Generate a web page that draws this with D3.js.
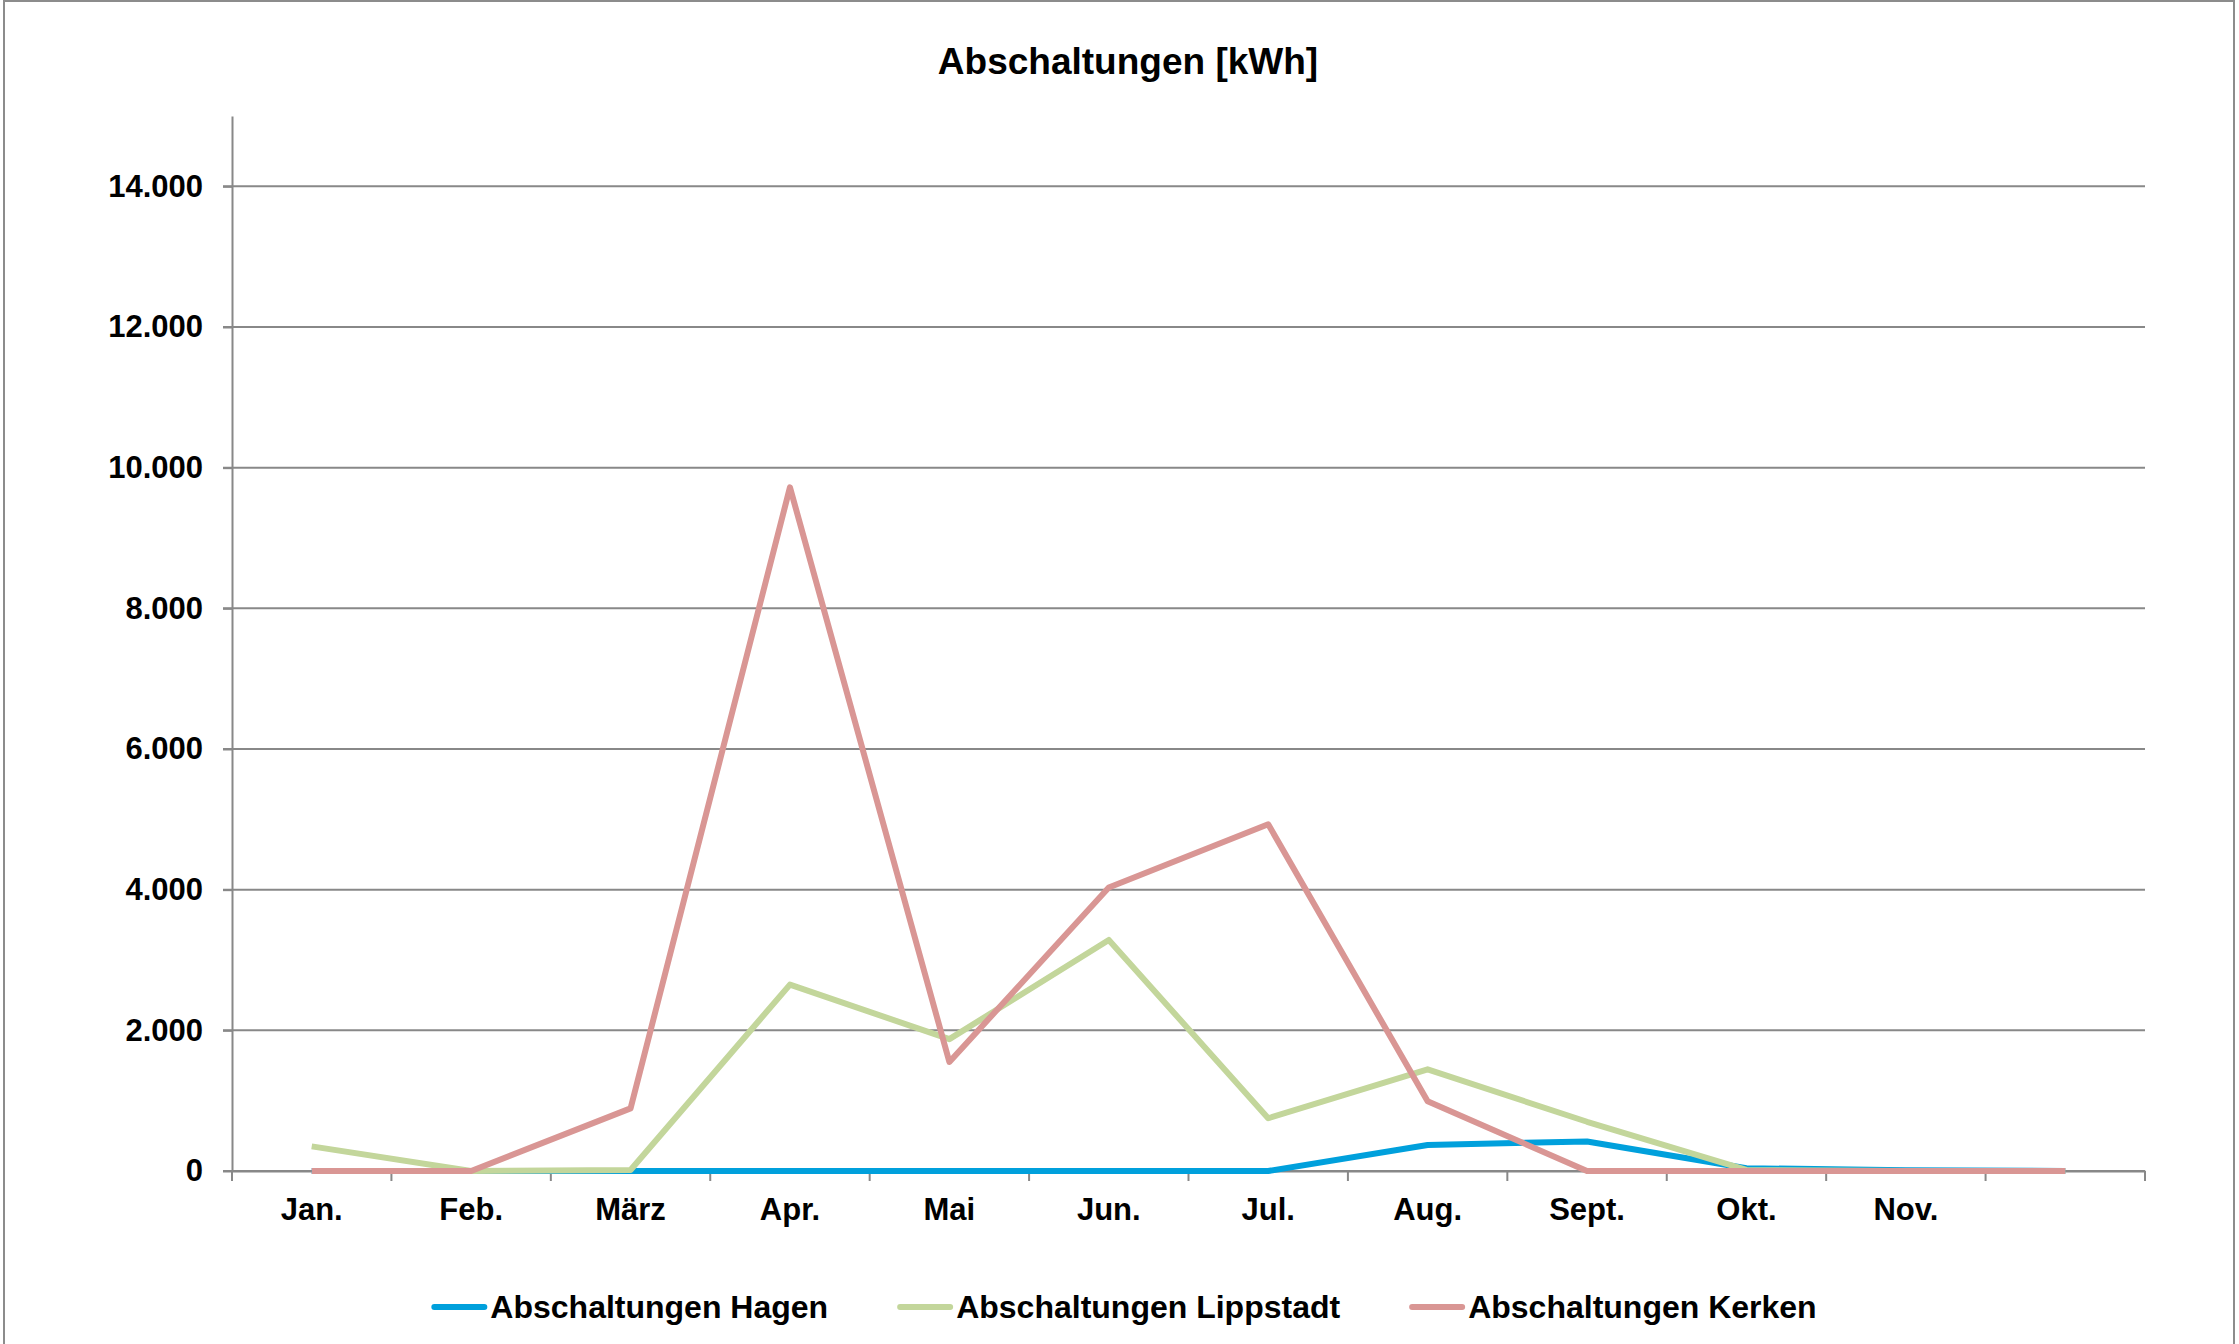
<!DOCTYPE html>
<html>
<head>
<meta charset="utf-8">
<script src="https://cdn.jsdelivr.net/npm/d3@7"></script>
<style>
  body { margin: 0; background: #fff; }
  text { font-family: "Liberation Sans", Arial, sans-serif; font-weight: bold; fill: #000; }
</style>
</head>
<body>
<svg id="chart"></svg>
<script>
// monthly values in kWh
const months = ["Jan.", "Feb.", "März", "Apr.", "Mai", "Jun.", "Jul.", "Aug.", "Sept.", "Okt.", "Nov.", ""];
const hagen = [0, 0, 0, 0, 0, 0, 0, 370, 420, 40, 10, 0];
const lippstadt = [350, 0, 15, 2650, 1875, 3285, 750, 1445, 700, 15, 0, 0];
const kerken = [0, 0, 890, 9720, 1550, 4030, 4930, 990, 0, 0, 0, 0];
const yTicks = [0, 2000, 4000, 6000, 8000, 10000, 12000, 14000];

const series = [
    { name: "Abschaltungen Hagen", values: hagen, color: "#00a0dc" },
    { name: "Abschaltungen Lippstadt", values: lippstadt, color: "#c3d69b" },
    { name: "Abschaltungen Kerken", values: kerken, color: "#d99694" }
];

const W = 2239, H = 1344;
const margin = { top: 116, right: 94, bottom: 173, left: 232 };
const width = W - margin.left - margin.right,
    height = H - margin.top - margin.bottom;

const de = d3.formatLocale({ decimal: ",", thousands: ".", grouping: [3], currency: ["", " €"] });
const fmt = de.format(",.0f");

const svg = d3.select("#chart").attr("width", W).attr("height", H);

// outer border
svg.append("rect")
    .attr("x", 4).attr("y", 1)
    .attr("width", 2230).attr("height", H + 10)
    .attr("fill", "none")
    .attr("stroke", "#8c8c8c")
    .attr("stroke-width", 2);

svg.append("text")
    .attr("x", 1128).attr("y", 74)
    .attr("text-anchor", "middle")
    .style("font-size", "37px")
    .text("Abschaltungen [kWh]");

const g = svg.append("g").attr("transform", `translate(${margin.left},${margin.top})`);

const x = d3.scaleBand().domain(months.map((m, i) => i)).range([0, width]).padding(0);
const y = d3.scaleLinear().domain([0, 15000]).range([height, 0]);

// gridlines
g.selectAll(".grid")
    .data(yTicks)
    .join("line")
    .attr("class", "grid")
    .attr("x1", -9).attr("x2", width)
    .attr("y1", d => y(d)).attr("y2", d => y(d))
    .attr("stroke", "#888")
    .attr("stroke-width", 2);

// y axis
const yAxis = g.append("g")
    .call(d3.axisLeft(y).tickValues(yTicks).tickFormat(fmt).tickSizeInner(9).tickSizeOuter(0).tickPadding(20));
yAxis.select(".domain").attr("stroke", "#888").attr("stroke-width", 2);
yAxis.selectAll(".tick line").attr("stroke", "#888").attr("stroke-width", 2);
yAxis.selectAll("text").style("font-size", "31px").attr("fill", "#000");

// x axis
const xAxis = g.append("g")
    .attr("transform", `translate(0,${height})`)
    .call(d3.axisBottom(x).tickFormat(i => months[i]).tickSize(0).tickPadding(27));
xAxis.select(".domain").attr("stroke", "#888").attr("stroke-width", 2);
xAxis.selectAll("text").style("font-size", "31px").attr("fill", "#000");

const bounds = months.map((m, i) => x(i)).concat([width]);
xAxis.selectAll(".btick")
    .data(bounds)
    .join("line")
    .attr("class", "btick")
    .attr("x1", d => d).attr("x2", d => d)
    .attr("y1", 0).attr("y2", 10)
    .attr("stroke", "#888")
    .attr("stroke-width", 2);

// series lines
const line = d3.line()
    .x((d, i) => x(i) + x.bandwidth() / 2)
    .y(d => y(d));

g.selectAll(".series")
    .data(series)
    .join("path")
    .attr("class", "series")
    .attr("d", d => line(d.values))
    .attr("fill", "none")
    .attr("stroke", d => d.color)
    .attr("stroke-width", 6)
    .attr("stroke-linejoin", "round");

// legend
const legend = svg.append("g").attr("transform", "translate(0,1307)");
let lx = 0;
series.forEach(s => {
    const it = legend.append("g").attr("transform", `translate(${lx},0)`);
    it.append("line")
        .attr("x1", 3).attr("x2", 53)
        .attr("stroke", s.color)
        .attr("stroke-width", 6)
        .attr("stroke-linecap", "round");
    const t = it.append("text")
        .attr("x", 59).attr("dy", "0.35em")
        .style("font-size", "32px")
        .text(s.name);
    lx += 59 + t.node().getComputedTextLength() + 69;
});
const total = lx - 69;
legend.attr("transform", `translate(${1124 - total / 2},1307)`);
</script>
</body>
</html>
